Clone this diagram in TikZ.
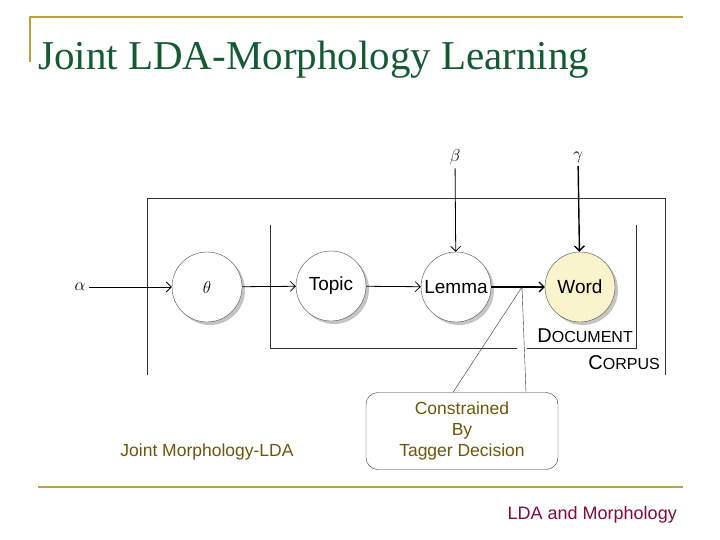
\documentclass[tikz,border=0pt]{standalone}
\usepackage{fontspec}
\setmainfont{Liberation Serif}
\newfontfamily\sansf{Liberation Sans}
\usetikzlibrary{positioning,shadows,arrows.meta}
\definecolor{rulegold}{RGB}{190,160,60}
\definecolor{titlegreen}{RGB}{20,90,50}
\definecolor{footred}{RGB}{130,10,60}
\definecolor{notebrown}{RGB}{110,85,10}
\definecolor{wordfill}{RGB}{250,244,205}
\begin{document}
\begin{tikzpicture}[x=1pt, y=-1pt,
  var/.style={circle, draw=black!70, fill=white, minimum size=70pt, inner sep=0pt,
    font=\sansf\fontsize{19}{19}\selectfont, drop shadow={shadow xshift=3pt, shadow yshift=-3pt, fill=black!45}},
  plate/.style={black!80, line width=0.7pt},
  edge/.style={-{Straight Barb[length=5pt]}, line width=0.8pt},
  greek/.style={font=\fontsize{16}{16}\selectfont},
  note/.style={font=\sansf\fontsize{17.5}{21}\selectfont, text=notebrown, align=center}]
\useasboundingbox (0,0) rectangle (720,540);
% slide frame
\draw[rulegold, line width=1.5pt] (30,62) -- (30,17) -- (683,17);
\draw[rulegold, line width=1.5pt] (38,487) -- (683,487);
\node[anchor=base west, text=titlegreen, font=\fontsize{41}{41}\selectfont, inner sep=0pt] (title) at (38,70) {Joint LDA-Morphology Learning};
\node[anchor=base east, text=footred, font=\sansf\fontsize{18}{18}\selectfont, inner sep=0pt] (foot) at (677,519) {LDA and Morphology};
% plates
\draw[plate] (147,375) -- (147,198) -- (665,198) -- (665,375);
\draw[plate] (270,225) -- (270,348) -- (517,348);
\draw[plate] (527,348) -- (636,348) -- (636,225);
\node[font=\sansf\fontsize{20}{20}\selectfont, anchor=base east, inner sep=0pt] (corpus) at (660,369) {C{\fontsize{16}{16}\selectfont ORPUS}};
\node[font=\sansf\fontsize{20}{20}\selectfont, anchor=base east, inner sep=0pt] (doc) at (633,342) {D{\fontsize{16}{16}\selectfont OCUMENT}};
% variables
\node[var] (theta) at (207,287) {$\theta$};
\node[var] (topic) at (331,286) {Topic};
\node[var] (lemma) at (456,287) {Lemma};
\node[var, fill=wordfill] (word) at (580,287) {Word};
\node[greek] (alpha) at (80,287) {$\alpha$};
\node[greek] (beta) at (455,157) {$\beta$};
\node[greek] (gamma) at (578,157) {$\gamma$};
\draw[edge] (alpha) -- (theta);
\draw[edge] (theta) -- (topic);
\draw[edge] (topic) -- (lemma);
\draw[edge, line width=1.2pt] (lemma) -- (word);
\draw[edge] (beta) -- (lemma);
\draw[edge, line width=1.4pt] (gamma) -- (word);
% callout
\node[draw=black!80, rounded corners=12pt, minimum width=192pt, minimum height=77pt, note] (callout) at (462,431) {Constrained\\By\\Tagger Decision};
\coordinate (tip) at (522,287);
\draw[black!80] ([xshift=-9pt]callout.north) -- (tip) -- ([xshift=64pt]callout.north);
\node[note] (joint) at (207,452) {Joint Morphology-LDA};
\end{tikzpicture}
\end{document}
